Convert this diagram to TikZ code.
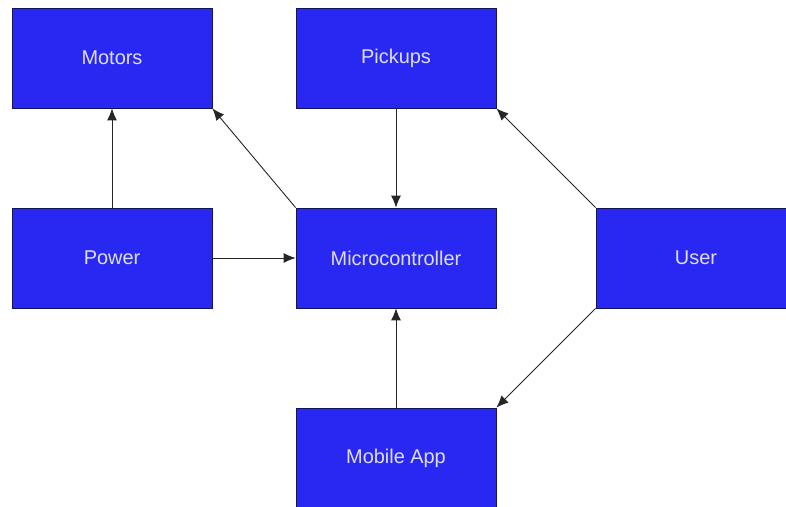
\documentclass[tikz,border=0pt]{standalone}
\usepackage{fontspec}
\setmainfont{Liberation Sans}
\usetikzlibrary{arrows.meta}
\definecolor{boxblue}{RGB}{40,40,242}
\definecolor{boxline}{RGB}{20,20,90}
\definecolor{boxtext}{RGB}{222,222,246}
\begin{document}
\begin{tikzpicture}[x=1bp,y=-1bp,
    block/.style={draw=boxline,fill=boxblue,line width=0.8bp,minimum width=200bp,minimum height=100bp,text=boxtext,font=\fontsize{20}{22}\selectfont},
    link/.style={-{Latex[length=12bp,width=10bp]},line width=0.9bp,draw=black!85}]
        \useasboundingbox[fill=white] (0,0) rectangle (786,507);
        %% top row
        \node[block] (motors) at (112,58) {Motors};
        \node[block] (pickups) at (396,58) {Pickups};
        %% middle row
        \node[block] (power) at (112,258) {Power};
        \node[block] (micro) at (396,258) {Microcontroller};
        \node[block] (user) at (696,258) {User};
        %% bottom
        \node[block] (app) at (396,458) {Mobile App};
        %% links
        \draw[link] (power.north) -- (motors.south);
        \draw[link] (micro.north west) -- (motors.south east);
        \draw[link] (pickups.south) -- (micro.north);
        \draw[link] (power.east) -- (micro.west);
        \draw[link] (app.north) -- (micro.south);
        \draw[link] (user.north west) -- (pickups.south east);
        \draw[link] (user.south west) -- (app.north east);
    \end{tikzpicture}
\end{document}
